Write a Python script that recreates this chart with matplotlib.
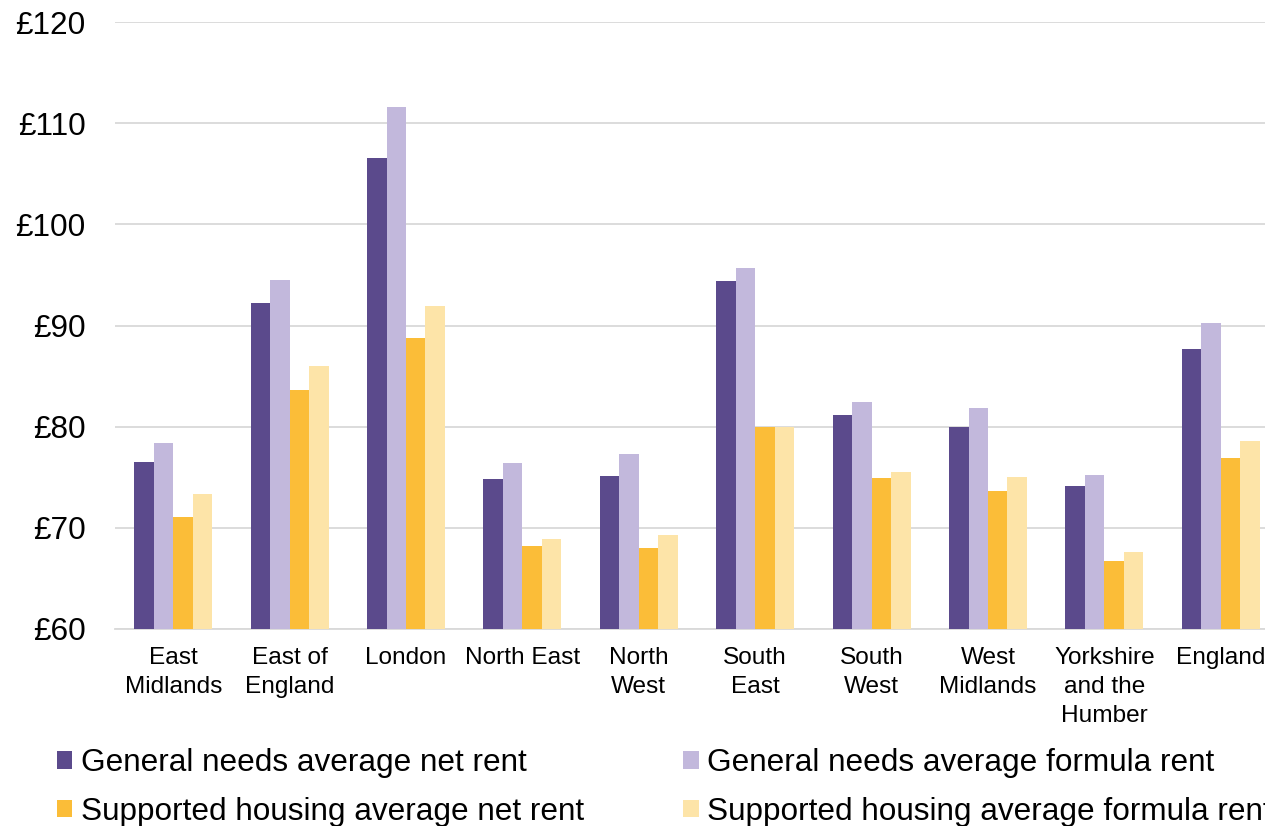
import matplotlib
matplotlib.use("Agg")
import matplotlib.pyplot as plt
import numpy as np

plt.rcParams['font.family'] = ['Liberation Sans', 'DejaVu Sans']

regions = ["East\nMidlands", "East of\nEngland", "London", "North East", "North\nWest",
           "South\nEast", "South\nWest", "West\nMidlands", "Yorkshire\nand the\nHumber", "England"]

gn_net = [76.5, 92.2, 106.6, 74.8, 75.1, 94.4, 81.2, 80.0, 74.1, 87.7]
gn_formula = [78.4, 94.5, 111.6, 76.4, 77.3, 95.7, 82.4, 81.8, 75.2, 90.2]
sh_net = [71.1, 83.6, 88.8, 68.2, 68.0, 80.0, 74.9, 73.6, 66.7, 76.9]
sh_formula = [73.3, 86.0, 91.9, 68.9, 69.3, 80.0, 75.5, 75.0, 67.6, 78.6]

series_labels = ["General needs average net rent", "General needs average formula rent",
                 "Supported housing average net rent", "Supported housing average formula rent"]
colors = ["#5B4A8C", "#C2B8DC", "#FBBD38", "#FDE4A8"]

y_ticks = [60, 70, 80, 90, 100, 110, 120]

W, H = 1265, 826
fig = plt.figure(figsize=(W / 100, H / 100), dpi=100)
ax = fig.add_axes([115 / W, 1 - 629 / H, 1164 / W, (629 - 22) / H])

x = np.arange(len(regions))
bw = 0.1675
series = [gn_net, gn_formula, sh_net, sh_formula]
bars = []
for i, (vals, c, lab) in enumerate(zip(series, colors, series_labels)):
    b = ax.bar(x + (i - 1.5) * bw, np.array(vals) - 60, bottom=60, width=bw,
               color=c, label=lab, zorder=3)
    bars.append(b)

ax.set_xlim(-0.5, len(regions) - 0.5)
ax.set_ylim(60, 120)
ax.set_yticks(y_ticks)
ax.set_yticklabels([f"£{v}" for v in y_ticks], fontsize=22.7)
ax.set_xticks(x)
ax.set_xticklabels(regions, fontsize=17.6, linespacing=1.4)
ax.tick_params(axis='both', length=0)
ax.tick_params(axis='y', pad=21)
ax.tick_params(axis='x', pad=13)
ax.grid(axis='y', color='#D9D9D9', linewidth=1.3, zorder=0)
for s in ['left', 'right', 'top']:
    ax.spines[s].set_visible(False)
ax.spines['bottom'].set_color('#D9D9D9')
ax.spines['bottom'].set_linewidth(1.3)

handles = [bars[0], bars[2], bars[1], bars[3]]
labels = [series_labels[0], series_labels[2], series_labels[1], series_labels[3]]
fig.legend(handles, labels, loc='upper left', bbox_to_anchor=(57 / W, 1 - 748 / H),
           ncol=2, frameon=False, fontsize=22.7, handlelength=0.48, handleheight=0.48,
           handletextpad=0.28, columnspacing=3.15, labelspacing=0.6, borderpad=0,
           borderaxespad=0)

fig.savefig("out.png", dpi=100)
